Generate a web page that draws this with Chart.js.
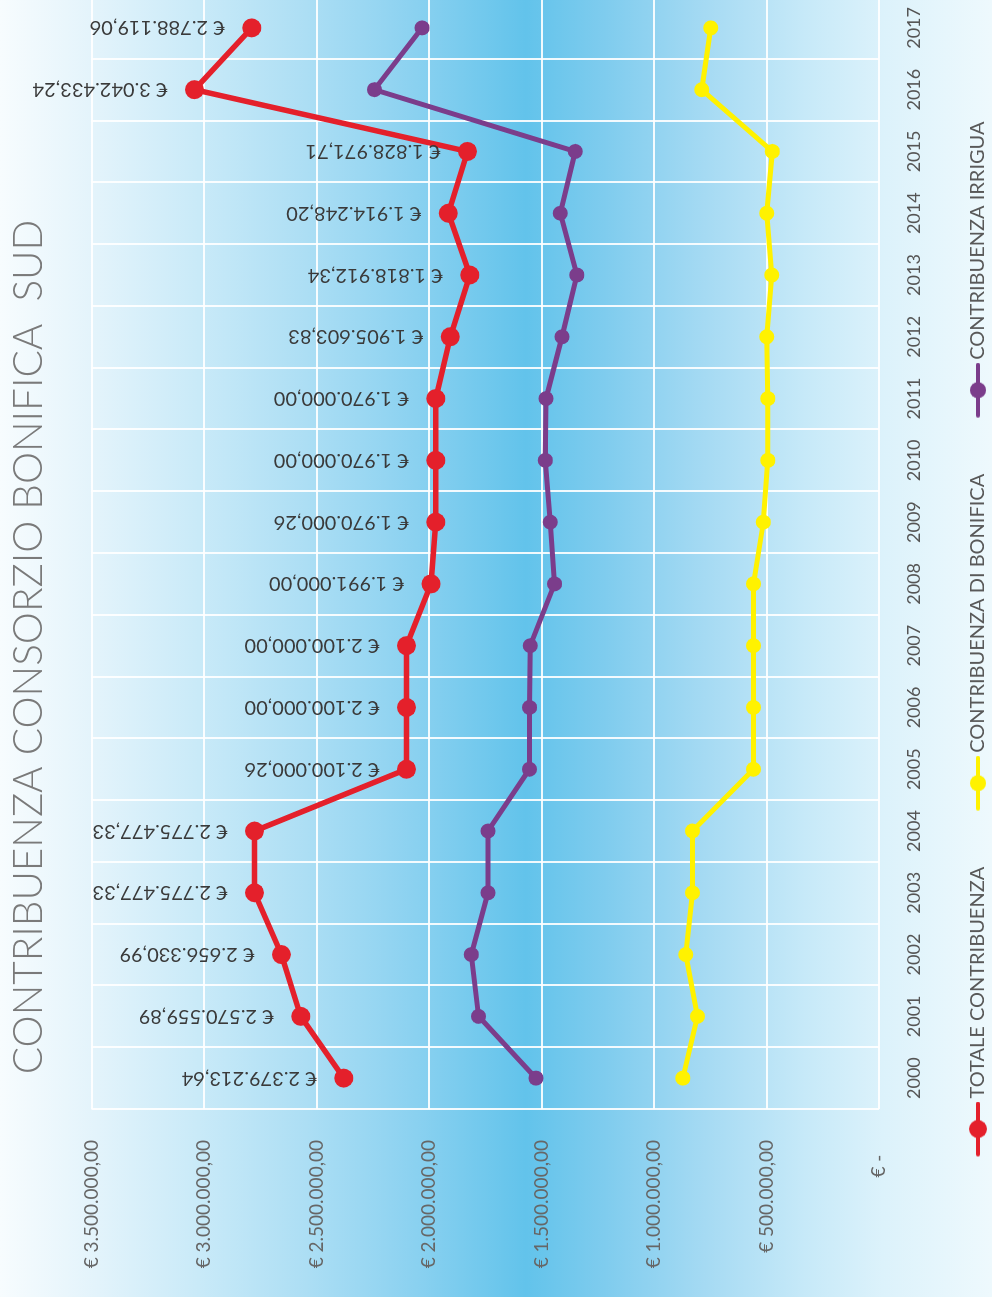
<!DOCTYPE html>
<html lang="it">
<head>
    <meta charset="UTF-8">
    <title>Contribuenza Consorzio Bonifica Sud</title>
    <script src="https://cdn.jsdelivr.net/npm/chart.js"></script>
    <style>
        html, body {
            margin: 0;
            padding: 0;
            width: 992px;
            height: 1297px;
            overflow: hidden;
            background: #fff;
        }
        /* the printed page is turned a quarter left, so the chart is drawn upright and rotated */
        .page {
            position: absolute;
            left: 0;
            top: 0;
            width: 1300px;
            height: 992px;
            transform-origin: 0 0;
            transform: translate(0, 1297px) rotate(-90deg);
        }
    </style>
</head>
<body>
    <div class="page">
        <canvas id="contribChart" width="1300" height="992"></canvas>
    </div>

    <script>
        const years = ["2000", "2001", "2002", "2003", "2004", "2005", "2006", "2007", "2008",
                       "2009", "2010", "2011", "2012", "2013", "2014", "2015", "2016", "2017"];

        const totale = [2379213.64, 2570559.89, 2656330.99, 2775477.33, 2775477.33, 2100000.26,
                        2100000.00, 2100000.00, 1991000.00, 1970000.26, 1970000.00, 1970000.00,
                        1905603.83, 1818912.34, 1914248.20, 1828971.71, 3042433.24, 2788119.06];

        const bonifica = [872000, 807000, 859000, 829000, 829000, 558000, 558000, 558000, 558000,
                          514000, 494000, 494000, 499000, 477000, 499000, 474000, 788000, 748000];

        const irrigua = [1525000, 1780000, 1812000, 1738000, 1738000, 1554000, 1553000, 1550000, 1442000,
                         1461000, 1483000, 1480000, 1409000, 1343000, 1417000, 1350000, 2243000, 2031000];

        const seriesNames = ["TOTALE CONTRIBUENZA", "CONTRIBUENZA DI BONIFICA", "CONTRIBUENZA IRRIGUA"];
        const seriesColors = ["#e4202b", "#fff200", "#7b3d8b"];

        const FONT = "Lato, 'Open Sans', sans-serif";

        function euro(v) {
            if (v === 0) return "€ -   ";
            const parts = v.toFixed(2).split(".");
            return "€ " + parts[0].replace(/\B(?=(\d{3})+(?!\d))/g, ".") + "," + parts[1];
        }

        // legend marker: short line with a dot; the line sits at the right end of the image
        function legendMarker(color, r) {
            const c = document.createElement("canvas");
            c.width = 78;
            c.height = 22;
            const g = c.getContext("2d");
            g.strokeStyle = color;
            g.lineWidth = 4;
            g.lineCap = "round";
            g.beginPath();
            g.moveTo(25, 11);
            g.lineTo(76, 11);
            g.stroke();
            g.fillStyle = color;
            g.beginPath();
            g.arc(50.5, 11, r, 0, Math.PI * 2);
            g.fill();
            return c;
        }

        const backgroundPlugin = {
            id: "pageBackground",
            beforeDraw(chart) {
                const ctx = chart.ctx;
                const h = chart.height;
                const grad = ctx.createLinearGradient(0, 0, 0, h);
                grad.addColorStop(0.00, "#f7fcfe");
                grad.addColorStop(0.10, "#e2f3fb");
                grad.addColorStop(0.20, "#c9eaf8");
                grad.addColorStop(0.31, "#acdef4");
                grad.addColorStop(0.42, "#8ad1f0");
                grad.addColorStop(0.53, "#62c3eb");
                grad.addColorStop(0.61, "#7fccee");
                grad.addColorStop(0.71, "#a5daf3");
                grad.addColorStop(0.81, "#c6e9f8");
                grad.addColorStop(0.89, "#dcf2fb");
                grad.addColorStop(1.00, "#eef9fd");
                ctx.save();
                ctx.fillStyle = grad;
                ctx.fillRect(0, 0, chart.width, h);
                ctx.restore();
            }
        };

        const valueLabels = {
            id: "valueLabels",
            afterDatasetsDraw(chart) {
                const ctx = chart.ctx;
                const meta = chart.getDatasetMeta(0);
                ctx.save();
                ctx.font = "20px " + FONT;
                ctx.fillStyle = "#3a3a3a";
                ctx.textAlign = "left";
                ctx.textBaseline = "middle";
                meta.data.forEach((pt, i) => {
                    ctx.save();
                    ctx.translate(pt.x, pt.y - 27);
                    ctx.rotate(-Math.PI / 2);
                    ctx.fillText(euro(totale[i]), 0, 0);
                    ctx.restore();
                });
                ctx.restore();
            }
        };

        const ctx = document.getElementById("contribChart").getContext("2d");
        new Chart(ctx, {
            type: "line",
            data: {
                labels: years,
                datasets: [
                    {
                        label: seriesNames[0],
                        data: totale,
                        borderColor: seriesColors[0],
                        backgroundColor: seriesColors[0],
                        borderWidth: 5.5,
                        pointRadius: 9.5,
                        pointBorderWidth: 0,
                        marker: legendMarker(seriesColors[0], 9)
                    },
                    {
                        label: seriesNames[1],
                        data: bonifica,
                        borderColor: seriesColors[1],
                        backgroundColor: seriesColors[1],
                        borderWidth: 5,
                        pointRadius: 7.5,
                        pointBorderWidth: 0,
                        marker: legendMarker(seriesColors[1], 8)
                    },
                    {
                        label: seriesNames[2],
                        data: irrigua,
                        borderColor: seriesColors[2],
                        backgroundColor: seriesColors[2],
                        borderWidth: 5,
                        pointRadius: 7.5,
                        pointBorderWidth: 0,
                        marker: legendMarker(seriesColors[2], 8)
                    }
                ]
            },
            options: {
                responsive: false,
                animation: false,
                layout: {
                    autoPadding: false,
                    padding: { top: 0, right: 0, bottom: -6, left: 0 }
                },
                plugins: {
                    title: {
                        display: true,
                        text: "CONTRIBUENZA CONSORZIO BONIFICA  SUD",
                        color: "#7a7a7a",
                        font: { family: FONT, size: 40.5, weight: "300" },
                        padding: { top: 5, bottom: 38 }
                    },
                    legend: {
                        display: true,
                        position: "bottom",
                        labels: {
                            color: "#595959",
                            font: { family: FONT, size: 20 },
                            usePointStyle: true,
                            pointStyleWidth: 64,
                            padding: 40,
                            generateLabels(chart) {
                                return chart.data.datasets.map((ds, i) => ({
                                    text: ds.label,
                                    fontColor: "#595959",
                                    pointStyle: ds.marker,
                                    datasetIndex: i,
                                    hidden: false,
                                    lineWidth: 0
                                }));
                            }
                        }
                    },
                    tooltip: { enabled: false }
                },
                scales: {
                    x: {
                        offset: true,
                        grid: {
                            offset: true,
                            color: "rgba(255,255,255,0.9)",
                            lineWidth: 2,
                            drawTicks: false
                        },
                        border: { display: false },
                        ticks: {
                            color: "#555555",
                            font: { family: FONT, size: 18 },
                            padding: 24,
                            maxRotation: 0,
                            autoSkip: false
                        },
                        afterFit(scale) {
                            scale.height = 49;
                            scale.paddingLeft = 0;
                            scale.paddingRight = 0;
                        }
                    },
                    y: {
                        min: 0,
                        max: 3500000,
                        grid: {
                            color: "rgba(255,255,255,0.9)",
                            lineWidth: 2,
                            drawTicks: false
                        },
                        border: { display: false },
                        ticks: {
                            stepSize: 500000,
                            color: "#666666",
                            font: { family: FONT, size: 19 },
                            padding: 31,
                            callback: (v) => euro(v)
                        },
                        afterFit(scale) {
                            scale.width = 188;
                        }
                    }
                }
            },
            plugins: [backgroundPlugin, valueLabels]
        });
    </script>
</body>
</html>
